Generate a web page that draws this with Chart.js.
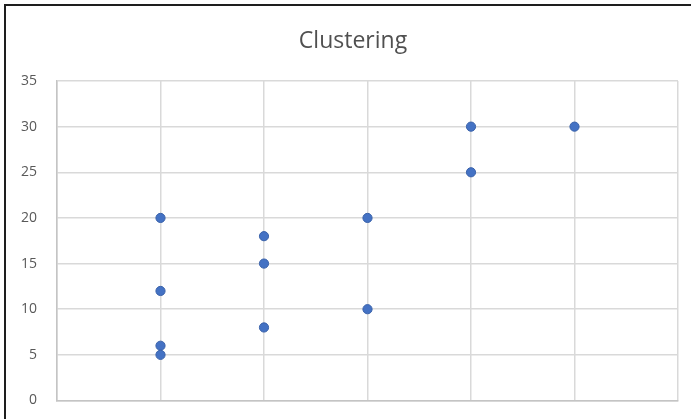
<!DOCTYPE html>
<html>
<head>
<meta charset="utf-8">
<script src="https://cdn.jsdelivr.net/npm/chart.js@4/dist/chart.umd.min.js"></script>
<style>
  html, body { margin: 0; padding: 0; background: #ffffff; overflow: hidden; }
  #wrap { position: relative; width: 691px; height: 419px; }
  #frame {
    position: absolute; left: 4px; top: 4px; width: 800px; height: 600px;
    border-left: 2px solid #1e1e1e; border-top: 2px solid #1e1e1e;
  }
  #chart { position: absolute; left: 0; top: 0; }
</style>
</head>
<body>
<div id="wrap">
  <div id="frame"></div>
  <canvas id="chart" width="691" height="419"></canvas>
</div>
<script>
// Scatter data: group index (x) and measured value (y)
const chartTitle = 'Clustering';
const xValues = [1, 1, 1, 1, 2, 2, 2, 3, 3, 4, 4, 5];
const yValues = [20, 12, 6, 5, 18, 15, 8, 20, 10, 30, 25, 30];
const yTicks = [0, 5, 10, 15, 20, 25, 30, 35];

const points = xValues.map((x, i) => ({ x: x, y: yValues[i] }));

// Title drawn centred over the frame
const titlePlugin = {
  id: 'frameTitle',
  afterDraw(chart) {
    const ctx = chart.ctx;
    ctx.save();
    ctx.font = '23px "Open Sans", sans-serif';
    ctx.fillStyle = '#505050';
    ctx.textAlign = 'center';
    ctx.textBaseline = 'middle';
    ctx.fillText(chartTitle, 353, 41);
    ctx.restore();
  }
};

new Chart(document.getElementById('chart'), {
  type: 'scatter',
  data: {
    datasets: [{
      data: points,
      backgroundColor: '#4472C4',
      borderColor: '#3A62AA',
      borderWidth: 1,
      pointRadius: 4.6,
      pointHoverRadius: 4.6
    }]
  },
  options: {
    responsive: false,
    animation: false,
    events: [],
    layout: { padding: { top: 81, bottom: 18.5, left: 0, right: 13 } },
    plugins: {
      legend: { display: false },
      title: { display: false },
      tooltip: { enabled: false }
    },
    scales: {
      x: {
        type: 'linear',
        min: 0,
        max: 6,
        ticks: { display: false, stepSize: 1 },
        grid: { color: '#D9D9D9', lineWidth: 1.5, drawTicks: false },
        border: { color: '#C4C4C4', width: 1.5 },
        afterFit(scale) { scale.height = 0; }
      },
      y: {
        type: 'linear',
        min: 0,
        max: 35,
        afterBuildTicks(scale) { scale.ticks = yTicks.map(v => ({ value: v })); },
        ticks: {
          padding: 20,
          color: '#595959',
          font: { family: '"Open Sans", sans-serif', size: 14 }
        },
        grid: { color: '#D9D9D9', lineWidth: 1.5, drawTicks: false },
        border: { color: '#C4C4C4', width: 1.5 },
        afterFit(scale) {
          scale.width = 57;
          scale.paddingTop = 0;
          scale.paddingBottom = 0;
        }
      }
    }
  },
  plugins: [titlePlugin]
});
</script>
</body>
</html>
